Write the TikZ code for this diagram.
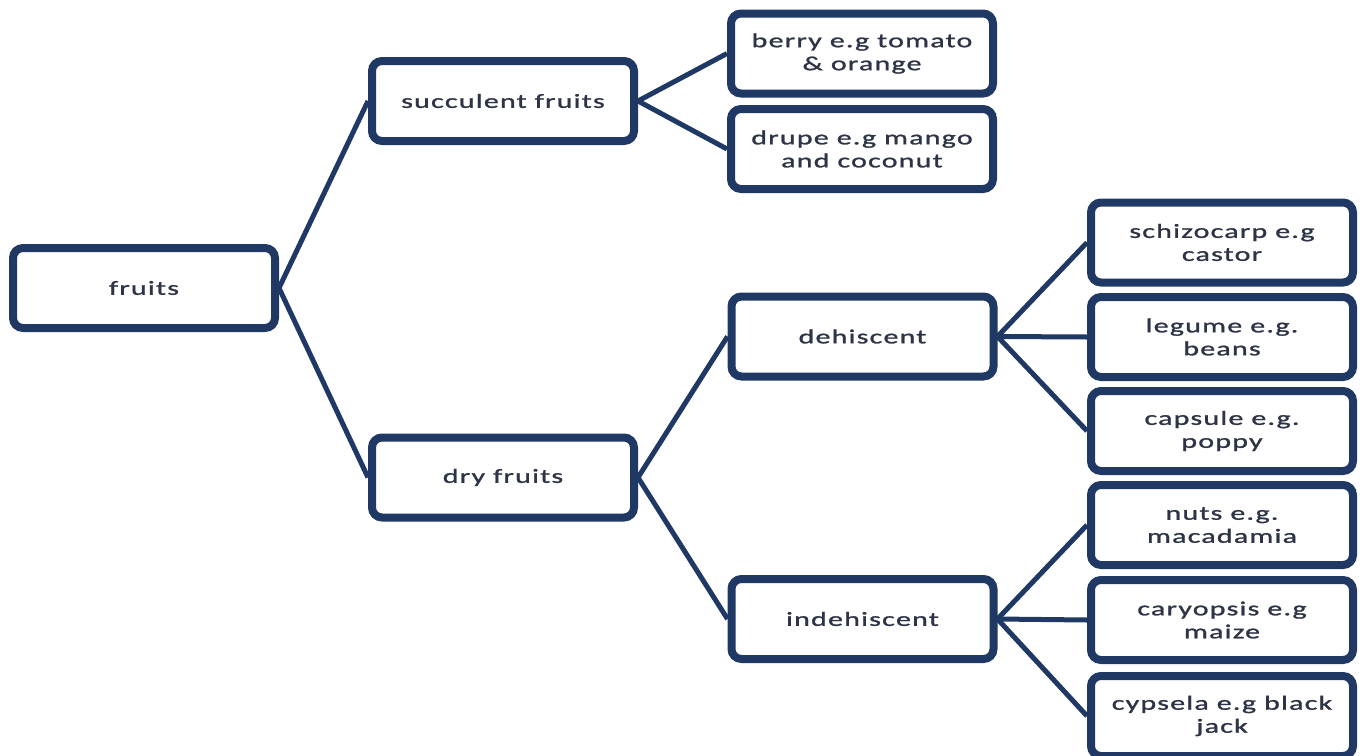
\documentclass[tikz,border=0pt]{standalone}
\usepackage{fontspec}
\setmainfont{Carlito}[FakeStretch=1.5,LetterSpace=6,FakeBold=1.2]
\usetikzlibrary{shadows}
\definecolor{navy}{RGB}{32,56,100}
\definecolor{txt}{RGB}{45,52,70}
\begin{document}
\begin{tikzpicture}[x=1pt,y=-1pt,
  box/.style={draw=navy,line width=8pt,rounded corners=10pt,fill=white,
    minimum width=262pt,minimum height=80pt,inner sep=0pt,align=center,
    text=txt,font=\fontsize{20}{23}\selectfont,
    drop shadow={opacity=0.25,shadow xshift=1pt,shadow yshift=-3pt}},
  link/.style={draw=navy,line width=5pt}]
\useasboundingbox (0,0) rectangle (1360,755);
\node[box] (fruits) at (144,288) {fruits};
\node[box] (succ) at (503,101) {succulent fruits};
\node[box] (dry) at (503,477.5) {dry fruits};
\node[box] (berry) at (862,53.5) {berry e.g tomato\\ \& orange};
\node[box] (drupe) at (862,149) {drupe e.g mango\\ and coconut};
\node[box] (dehis) at (862.5,336.5) {dehiscent};
\node[box] (indehis) at (862.5,619) {indehiscent};
\node[box] (schizo) at (1222,242.5) {schizocarp e.g\\ castor};
\node[box] (legume) at (1222,337) {legume e.g.\\ beans};
\node[box] (capsule) at (1222,431) {capsule e.g.\\ poppy};
\node[box] (nuts) at (1222,525) {nuts e.g.\\ macadamia};
\node[box] (caryo) at (1222,620) {caryopsis e.g\\ maize};
\node[box] (cypsela) at (1222,716) {cypsela e.g black\\ jack};
\draw[link] (fruits.east) -- (succ.west);
\draw[link] (fruits.east) -- (dry.west);
\draw[link] (succ.east) -- (berry.west);
\draw[link] (succ.east) -- (drupe.west);
\draw[link] (dry.east) -- (dehis.west);
\draw[link] (dry.east) -- (indehis.west);
\draw[link] (dehis.east) -- (schizo.west);
\draw[link] (dehis.east) -- (legume.west);
\draw[link] (dehis.east) -- (capsule.west);
\draw[link] (indehis.east) -- (nuts.west);
\draw[link] (indehis.east) -- (caryo.west);
\draw[link] (indehis.east) -- (cypsela.west);
\end{tikzpicture}
\end{document}
